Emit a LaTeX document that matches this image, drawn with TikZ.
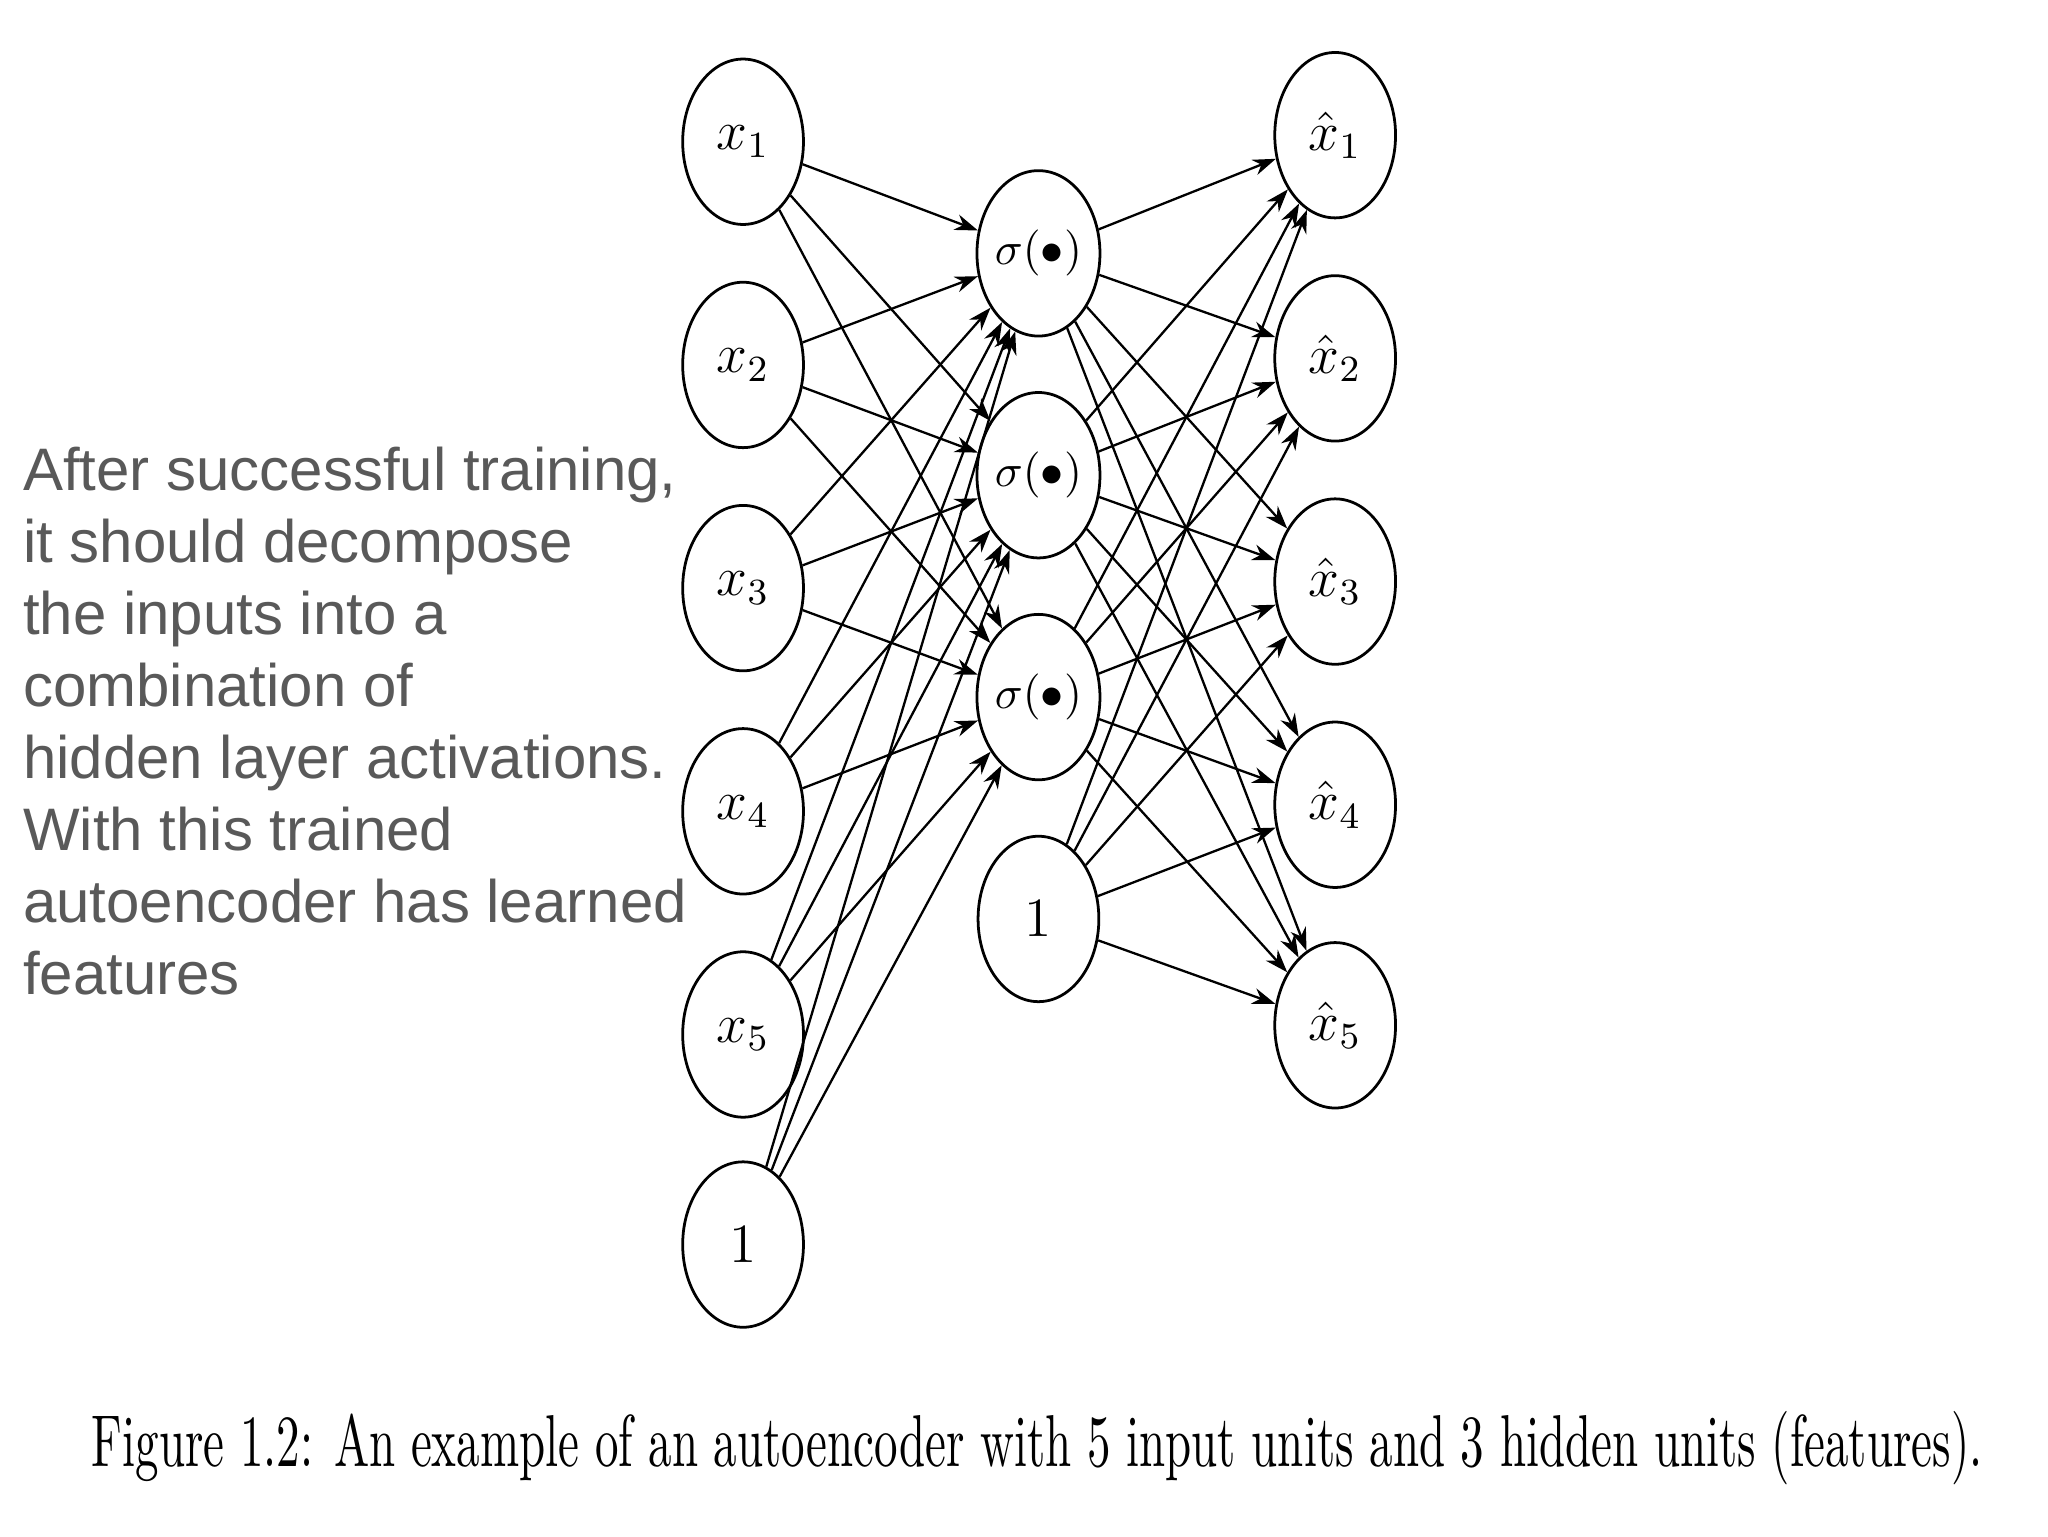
\documentclass[tikz,border=0pt]{standalone}
\usepackage{fontspec}
\newfontfamily\sansf{Liberation Sans}
\usetikzlibrary{shapes.geometric,arrows.meta}
\begin{document}
\begin{tikzpicture}[x=1cm,y=1cm,
  unit/.style={draw,ellipse,minimum width=0.92cm,minimum height=1.26cm,inner sep=0pt,line width=0.6pt,font=\large},
  conn/.style={-{Stealth[length=5pt,width=3.5pt]},line width=0.5pt}]
\useasboundingbox (0,0) rectangle (15.6,11.7);
\fill[white] (0,0) rectangle (15.6,11.7);
\foreach \i/\y in {1/108,2/278,3/448,4/618,5/788}
  \node[unit] (x\i) at (5.66,{(1170-\y)/100}) {$x_{\i}$};
\node[unit] (xb) at (5.66,{(1170-948)/100}) {$1$};
\foreach \i/\y in {1/193,2/362,3/531}
  \node[unit,font=\normalsize] (h\i) at (7.91,{(1170-\y)/100}) {$\sigma(\bullet)$};
\node[unit] (hb) at (7.91,{(1170-700)/100}) {$1$};
\foreach \i/\y in {1/103,2/273,3/443,4/613,5/781}
  \node[unit] (o\i) at (10.17,{(1170-\y)/100}) {$\hat{x}_{\i}$};
\foreach \a in {x1,x2,x3,x4,x5,xb}
  \foreach \b in {h1,h2,h3}
    \draw[conn] (\a) -- (\b);
\foreach \a in {h1,h2,h3,hb}
  \foreach \b in {o1,o2,o3,o4,o5}
    \draw[conn] (\a) -- (\b);
\node[anchor=north west,align=left,font=\sansf\fontsize{13pt}{15.6pt}\selectfont,text=black!65,inner sep=0pt] (txt) at (0.17,8.3)
 {After successful training,\\it should decompose\\the inputs into a\\combination of\\hidden layer activations.\\With this trained\\autoencoder has learned\\features};
\node[inner sep=0pt] (cap) at (7.9,{(1170-1103)/100}) {\resizebox{14.4cm}{0.42cm}{Figure 1.2: An example of an autoencoder with 5 input units and 3 hidden units (features).}};
\end{tikzpicture}
\end{document}
